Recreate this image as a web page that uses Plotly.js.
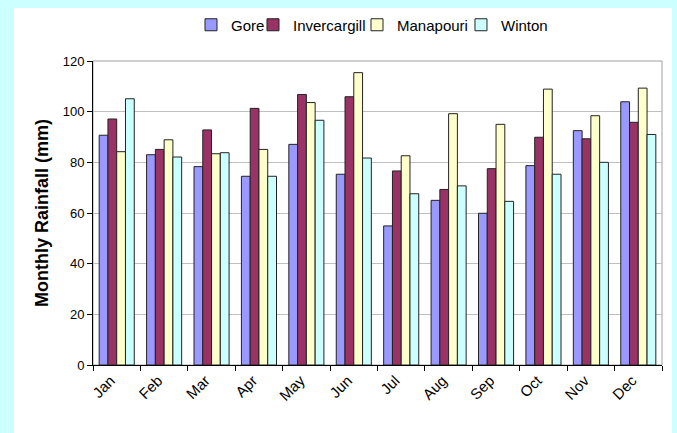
<!DOCTYPE html>
<html>
<head>
<meta charset="utf-8">
<script src="https://cdn.plot.ly/plotly-3.0.1.min.js"></script>
<style>
  html, body {
    margin: 0;
    padding: 0;
    background: #ccffff;
    width: 677px;
    height: 433px;
    overflow: hidden;
  }
  #chart {
    position: absolute;
    left: 14px;
    top: 8px;
    width: 658px;
    height: 425px;
    background: #ffffff;
  }
</style>
</head>
<body>
<div id="chart"></div>
<script>
  // monthly rainfall (mm)
  var months = ['Jan', 'Feb', 'Mar', 'Apr', 'May', 'Jun',
    'Jul', 'Aug', 'Sep', 'Oct', 'Nov', 'Dec'];
  var gore = [90.7, 83.0, 78.3, 74.5, 87.1, 75.3,
    54.9, 65.0, 59.9, 78.7, 92.5, 103.9];
  var invercargill = [97.1, 85.1, 92.8, 101.3, 106.8, 105.9,
    76.6, 69.3, 77.5, 89.9, 89.3, 95.8];
  var manapouri = [84.2, 88.9, 83.4, 85.1, 103.6, 115.4,
    82.6, 99.2, 95.0, 108.9, 98.4, 109.3];
  var winton = [105.1, 82.1, 83.8, 74.5, 96.6, 81.7,
    67.6, 70.7, 64.6, 75.3, 80.0, 91.0];

  var font = 'Liberation Sans, Arial, sans-serif';

  function makeBar(name, values, color, legendId) {
    return {
      type: 'bar',
      name: name,
      legend: legendId,
      x: months,
      y: values,
      marker: {
        color: color,
        line: {color: '#222222', width: 1}
      },
      hoverinfo: 'x+y+name'
    };
  }

  // one legend per series so each entry sits where Excel put it
  function makeLegend(x) {
    return {
      orientation: 'h',
      xref: 'container',
      yref: 'container',
      x: x,
      xanchor: 'left',
      y: 0.96,
      yanchor: 'middle',
      bgcolor: 'rgba(0,0,0,0)',
      font: {family: font, size: 15},
      itemclick: false,
      itemdoubleclick: false
    };
  }

  var data = [
    makeBar('Gore', gore, '#9999ff', 'legend'),
    makeBar('Invercargill', invercargill, '#993366', 'legend2'),
    makeBar('Manapouri', manapouri, '#ffffcc', 'legend3'),
    makeBar('Winton', winton, '#ccffff', 'legend4')
  ];

  var layout = {
    width: 658,
    height: 425,
    margin: {l: 79, r: 10, t: 53, b: 68},
    paper_bgcolor: '#ffffff',
    plot_bgcolor: '#ffffff',
    font: {family: font, color: '#000000', size: 12},
    barmode: 'group',
    bargap: 0.26,
    bargroupgap: 0,
    showlegend: true,
    legend: makeLegend(0.2690),
    legend2: makeLegend(0.3632),
    legend3: makeLegend(0.5213),
    legend4: makeLegend(0.6793),
    xaxis: {
      type: 'category',
      tickangle: -45,
      tickfont: {family: font, size: 15},
      ticks: 'outside',
      tickson: 'boundaries',
      ticklen: 5,
      ticklabelshift: -6,
      tickcolor: '#000000',
      showline: true,
      linecolor: '#000000',
      linewidth: 1,
      showgrid: false,
      fixedrange: true
    },
    yaxis: {
      range: [0, 120],
      dtick: 20,
      tickfont: {family: font, size: 13},
      ticks: 'outside',
      ticklen: 5,
      tickcolor: '#000000',
      showline: true,
      linecolor: '#000000',
      linewidth: 1,
      showgrid: true,
      gridcolor: '#c0c0c0',
      gridwidth: 1,
      zeroline: false,
      fixedrange: true,
      title: {
        text: 'Monthly Rainfall (mm)',
        font: {family: font, size: 18, weight: 'bold'},
        standoff: 9
      }
    },
    shapes: [
      {
        type: 'rect',
        xref: 'paper',
        yref: 'paper',
        x0: 0,
        x1: 1,
        y0: 0,
        y1: 1,
        line: {color: '#a0a0a0', width: 1},
        layer: 'below'
      }
    ]
  };

  Plotly.newPlot('chart', data, layout, {displayModeBar: false});
</script>
</body>
</html>
